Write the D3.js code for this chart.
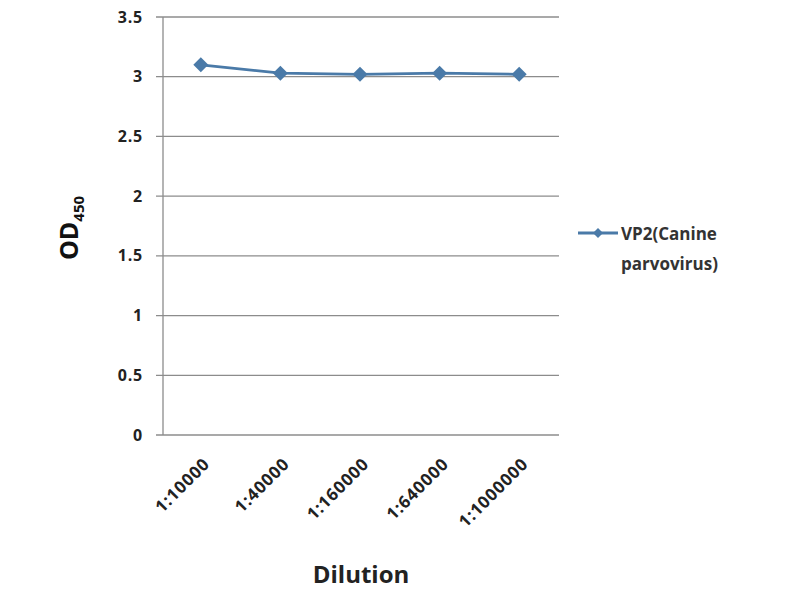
<!DOCTYPE html>
<html>
<head>
<meta charset="utf-8">
<script src="https://cdn.jsdelivr.net/npm/d3@7"></script>
<style>
  body { margin: 0; background: #fff; }
  text { font-family: "Open Sans", "DejaVu Sans", sans-serif; }
</style>
</head>
<body>
<div id="chart"></div>
<script>
const dilutions = ["1:10000", "1:40000", "1:160000", "1:640000", "1:1000000"];
const odValues = [3.10, 3.03, 3.02, 3.03, 3.02];
const yTicks = [0, 0.5, 1, 1.5, 2, 2.5, 3, 3.5];
const seriesName = ["VP2(Canine", "parvovirus)"];

const w = 800, h = 600;
const plotLeft = 161, plotRight = 559, plotTop = 17, plotBottom = 435;
const color = "#4a7aa8";

let svg = d3.select("#chart")
  .append("svg")
  .attr("width", w)
  .attr("height", h)

let x = d3.scaleBand()
  .domain(dilutions)
  .range([plotLeft, plotRight])

let y = d3.scaleLinear()
  .domain([0, 3.5])
  .range([plotBottom, plotTop])

// diamond marker like the spreadsheet one (same width and height)
function diamondPath(r) {
  return `M0,${-r}L${r},0L0,${r}L${-r},0Z`
}

// gridlines
svg.append("g")
  .selectAll("line")
  .data(yTicks)
  .join("line")
  .attr("x1", plotLeft - 5)
  .attr("x2", plotRight)
  .attr("y1", d => y(d))
  .attr("y2", d => y(d))
  .attr("stroke", "#8c8c8c")
  .attr("stroke-width", 1.3)

// y axis line
svg.append("line")
  .attr("x1", plotLeft + 2).attr("x2", plotLeft + 2)
  .attr("y1", plotTop).attr("y2", plotBottom)
  .attr("stroke", "#8c8c8c")
  .attr("stroke-width", 1.3)

// y tick labels
svg.append("g")
  .selectAll("text")
  .data(yTicks)
  .join("text")
  .attr("x", plotLeft - 18)
  .attr("y", d => y(d))
  .attr("dy", "0.35em")
  .attr("text-anchor", "end")
  .attr("font-size", 16)
  .attr("font-weight", "bold")
  .attr("letter-spacing", 0.8)
  .attr("fill", "#222")
  .text(d => d)

// x tick labels, rotated
svg.append("g")
  .selectAll("text")
  .data(dilutions)
  .join("text")
  .attr("transform", d => `translate(${x(d) + x.bandwidth() / 2 + 10},${plotBottom + 30}) rotate(-45)`)
  .attr("text-anchor", "end")
  .attr("font-size", 17)
  .attr("font-weight", "bold")
  .attr("letter-spacing", 0.8)
  .attr("fill", "#222")
  .text(d => d)

let line = d3.line()
  .x((d, i) => x(dilutions[i]) + x.bandwidth() / 2)
  .y(d => y(d))

svg.append("path")
  .datum(odValues)
  .attr("d", line)
  .attr("fill", "none")
  .attr("stroke", color)
  .attr("stroke-width", 2.8)

svg.append("g")
  .selectAll("path")
  .data(odValues)
  .join("path")
  .attr("transform", (d, i) => `translate(${x(dilutions[i]) + x.bandwidth() / 2},${y(d)})`)
  .attr("d", diamondPath(7.5))
  .attr("fill", color)

// legend
svg.append("line")
  .attr("x1", 578).attr("x2", 618)
  .attr("y1", 233).attr("y2", 233)
  .attr("stroke", color)
  .attr("stroke-width", 2.8)
svg.append("path")
  .attr("transform", "translate(598,233)")
  .attr("d", diamondPath(5))
  .attr("fill", color)
svg.append("g")
  .selectAll("text")
  .data(seriesName)
  .join("text")
  .attr("x", 621)
  .attr("y", (d, i) => 240 + i * 30)
  .attr("font-size", 17)
  .attr("font-weight", "bold")
  .attr("fill", "#333")
  .text(d => d)

// axis titles
let yTitle = svg.append("text")
  .attr("transform", "translate(78,228) rotate(-90)")
  .attr("text-anchor", "middle")
  .attr("font-size", 25)
  .attr("font-weight", "bold")
  .attr("fill", "#111")
yTitle.append("tspan").text("OD")
yTitle.append("tspan").attr("font-size", 15).attr("dy", 6).text("450")

svg.append("text")
  .attr("x", 361)
  .attr("y", 583)
  .attr("text-anchor", "middle")
  .attr("font-size", 24)
  .attr("font-weight", "bold")
  .attr("fill", "#222")
  .text("Dilution")
</script>
</body>
</html>
